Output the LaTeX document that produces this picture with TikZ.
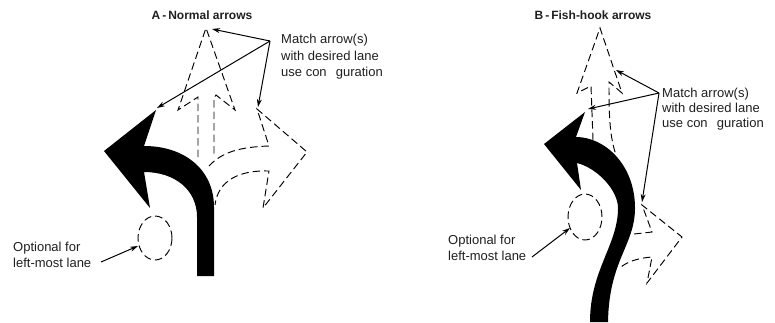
\documentclass[tikz,border=0pt]{standalone}
\usepackage{fontspec}
\setmainfont{Liberation Sans}
\usetikzlibrary{arrows.meta,shapes.geometric}
\tikzset{
  x=1pt,y=-1pt,
  dashline/.style={draw=black,line width=0.95pt,dash pattern=on 7.5pt off 4pt},
  solidarrow/.style={fill=black,draw=none},
  leader/.style={draw=black,line width=1pt,-{Stealth[length=8pt,width=5pt]}},
  lane/.style={ellipse,draw=black,line width=0.95pt,dash pattern=on 7.5pt off 4pt,minimum width=34pt,minimum height=44pt,inner sep=0pt},
  note/.style={anchor=west,align=left,inner sep=0pt,font=\fontsize{13}{16.4}\selectfont,text=black!88},
  heading/.style={inner sep=0pt,font=\fontsize{12}{14}\selectfont\bfseries,text=black!88},
}
\begin{document}
\begin{tikzpicture}
\useasboundingbox (0,0) rectangle (775,322);
% ---------- Panel A
\node[heading] (titleA) at (202,15) {A\,-\,Normal arrows};
\path[solidarrow] (104,151) -- (156,110) -- (144,146)
  .. controls (185,146) and (214,170) .. (214,207) -- (214,276) -- (197,276) -- (197,217)
  .. controls (197,190) and (175,172) .. (144,172) -- (150,208) -- cycle;
% straight dashed arrow
\draw[dashline] (198,157) -- (198,97) -- (178,110) -- (206,28) -- (235,110) -- (216,95) -- (214,98) -- (214,155);
% right dashed arrow
\draw[dashline] (209,166) .. controls (222,152) and (240,147) .. (269,146) -- (257,109) -- (307,152) -- (263,208) -- (269,171)
  .. controls (240,170) and (218,180) .. (215,205);
\node[lane] (optA) at (155,238) {};
\node[note] (matchA) at (281,57) {Match arrow(s)\\with desired lane\\use con\hspace{0.7em}guration};
\node[note] (optTextA) at (13,255) {Optional for\\left-most lane};
\coordinate (fromA) at (270,41);
\coordinate (toA1) at (212,29);
\coordinate (toA2) at (157,108);
\coordinate (toA3) at (258,107);
\coordinate (fromOptA) at (101,262);
\coordinate (toOptA) at (138,246);
\draw[leader] (fromA) -- (toA1);
\draw[leader] (fromA) -- (toA2);
\draw[leader] (fromA) -- (toA3);
\draw[leader] (fromOptA) -- (toOptA);
% ---------- Panel B
\node[heading] (titleB) at (593,15) {B\,-\,Fish-hook arrows};
\path[solidarrow] (544,144) -- (585,112) -- (576,137)
  .. controls (605,137) and (635,165) .. (635,208)
  .. controls (635,245) and (609,260) .. (608,322) -- (590,322)
  .. controls (590,270) and (618,245) .. (618,208)
  .. controls (618,190) and (597,168) .. (577,163) -- (581,190) -- cycle;
\draw[dashline] (593,140) -- (591,86) -- (577,93) -- (600,28) -- (622,93) -- (609,82)
  .. controls (609,110) and (609,135) .. (616,155);
\draw[dashline] (634,234) -- (652,232) -- (642,205) -- (682,237) -- (647,283) -- (652,257)
  .. controls (638,258) and (626,262) .. (620,268);
\node[lane,minimum height=46pt] (optB) at (585,217) {};
\node[note,font=\fontsize{13}{15}\selectfont] (matchB) at (662,109) {Match arrow(s)\\with desired lane\\use con\hspace{0.7em}guration};
\node[note] (optTextB) at (448,248) {Optional for\\left-most lane};
\coordinate (fromB) at (659,93);
\coordinate (toB1) at (616,70);
\coordinate (toB2) at (588,109);
\coordinate (toB3) at (642,202);
\coordinate (fromOptB) at (532,257);
\coordinate (toOptB) at (570,228);
\draw[leader] (fromB) -- (toB1);
\draw[leader] (fromB) -- (toB2);
\draw[leader] (fromB) -- (toB3);
\draw[leader] (fromOptB) -- (toOptB);
\end{tikzpicture}
\end{document}
